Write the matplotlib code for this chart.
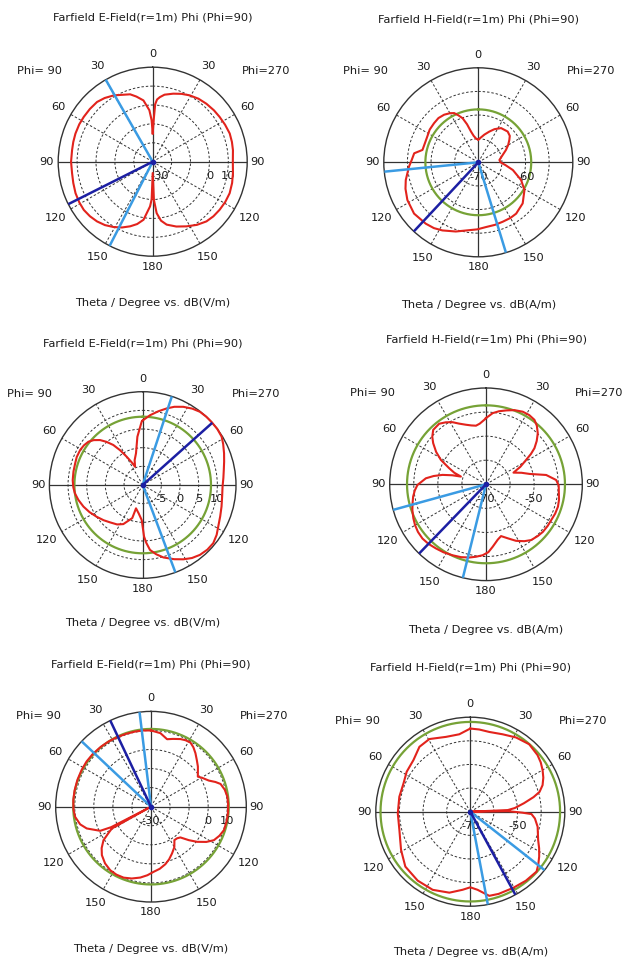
import numpy as np
import matplotlib
matplotlib.use("Agg")
import matplotlib.pyplot as plt

W, H = 633, 963

# Angles are measured clockwise from the zenith (0..360 deg):
# right half = Phi=270 cut (theta 0..180), left half = Phi=90 cut.

# ---------- E-field, case 1 ----------
e1_theta = [0, 1.5, 2.5, 4, 6.4, 10, 16.8, 23, 29.2, 36, 42.8, 50, 56.2, 63, 69.9, 76, 81.8,
            90, 98.2, 105, 112.3, 119, 125.7, 132, 138, 145, 152.4, 160, 167.5, 172, 175.6,
            178.2, 180, 181.6, 183.4, 189, 194, 199.2, 205, 210.9, 217, 223, 229, 235, 241,
            247.8, 255, 261.8, 270, 278.2, 284, 290, 297, 303, 310, 317, 323, 329.5, 334,
            341.5, 346, 351.4, 356.3, 358.5, 360]
e1_db = [-15, -7, 0.5, 3, 4.4, 6, 7.6, 9, 10.2, 11.2, 11.8, 12.3, 12.6, 13.0, 13.4, 13.2, 12.9,
         12.4, 12.9, 13.5, 14.0, 13.9, 13.6, 13.2, 12.5, 10.8, 8.6, 6.5, 4.1, 1.5, -2.7,
         -9.8, -24, -10, -6.3, 1.1, 4, 6.2, 8.4, 10.3, 12, 13.2, 14.0, 14.5, 14.4,
         14.1, 13.5, 13.1, 13.2, 13.1, 13.3, 13.5, 13.6, 13.5, 13.4, 13.2, 12.2, 10.7, 9.3,
         7.6, 5.5, 2.8, -2.7, -8, -15]
e1_main = 243.3
e1_beam = [330.2, 207.1]

# ---------- H-field, case 1 ----------
h1_theta = [0, 12.4, 19.7, 26, 33.7, 43.7, 50, 54.2, 60, 66, 75, 83.7, 90, 96, 102.6, 112.5,
            121, 132.8, 143.6, 150, 157.7, 165, 173.2, 181, 189.3, 198, 207.8, 214, 220.6,
            231.4, 242, 250, 256.3, 266.4, 272, 278, 282.5, 290, 296.9, 304, 311.5, 318,
            324.3, 330, 333.9, 337, 340.4, 343.5, 346.6, 350, 355, 360]
h1_db = [-65.2, -64.0, -63.1, -62.2, -61.3, -61.0, -61.3, -61.9, -62.7, -63.6, -64.8, -65.5,
         -65.3, -64.2, -62.5, -60.2, -58.6, -57.2, -56.5, -56.4, -56.4, -56.3, -56.2, -55.8,
         -55.4, -54.6, -53.7, -53.2, -52.9, -52.6, -53.0, -53.6, -54.2, -55.3, -55.9, -56.3,
         -57.9, -58.0, -57.9, -57.6, -57.5, -57.4, -57.6, -58.0, -58.4, -59.2, -60.1, -61.6,
         -63.3, -64.3, -65.0, -65.2]
h1_ref = -58.8
h1_main = 223
h1_beam = [264.3, 163]

# ---------- E-field, case 2 ----------
e2_theta = [0, 6, 12, 17.4, 22, 27.4, 33, 38, 43, 47.5, 53, 58.5, 63, 68.7, 74, 79.5, 85,
            91.2, 98, 105.3, 112, 118.8, 124, 129.5, 135, 140.7, 146, 151.3, 157, 164, 169,
            173.6, 176.5, 178.5, 181.6, 188, 196, 197.5, 206.4, 213, 221.2, 228, 235.5, 243,
            250, 257, 263, 268, 274, 281, 287.8, 293, 299.2, 304, 308.6, 312.5, 316.5, 320,
            323.7, 327, 330.5, 334, 337.3, 342, 348.1, 353.7, 359.1, 360]
e2_db = [7.3, 8.8, 10.2, 11.5, 12.6, 13.6, 14.4, 14.9, 15.0, 15.0, 15.0, 14.8, 14.2, 13.4,
         12.7, 12.1, 11.7, 11.4, 11.5, 11.9, 12.4, 13.1, 13.9, 14.5, 14.5, 14.2, 13.6, 12.7,
         11.6, 10.2, 8.9, 7.5, 5.5, 3.8, -0.6, -2.3, -3.5, -0.7, 1.7, 2.6, 3.3, 4.1, 5.0, 6.0,
         6.9, 7.7, 8.3, 8.6, 8.8, 8.9, 9.0, 9.2, 9.2, 9.0, 8.6, 7.8, 6.6, 5.1,
         3.3, 1.1, -1.3, -3.2, -4.7, -3.0, -1.3, 3.0, 7.0, 7.3]
e2_ref = 8.3
e2_main = 48.2
e2_beam = [18.2, 159.5]

# ---------- H-field, case 2 ----------
h2_theta = [0, 5.4, 10, 15.2, 21, 26.9, 32, 36.9, 41, 45.4, 49.5, 53.3, 56, 58.7, 63, 67,
            72, 76.6, 81.2, 86.5, 91, 97.1, 102, 107.3, 113, 118.8, 124, 129.9, 135, 141,
            146, 152, 158, 163.8, 168, 173.9, 178, 182.7, 188, 192.9, 199, 205.3, 212, 218,
            224, 229.5, 235, 240.1, 245, 250.7, 255, 260.4, 265, 269.4, 275.7, 279, 282.2,
            285, 287.1, 290, 293.6, 298.4, 303, 307.9, 311.5, 315.9, 322.3, 327, 331.7, 336,
            341.4, 346, 350.3, 354, 358.5, 360]
h2_db = [-42.5, -40.3, -39.2, -38.2, -37.0, -36.2, -36.1, -36.5, -37.8, -39.8, -42.3, -44.9,
         -47.5, -50.5, -54.0, -57.6, -54.5, -51.4, -44.7, -40.8, -39.8, -39.5, -39.0, -38.7,
         -38.8, -39.1, -39.1, -39.2, -39.6, -40.2, -41.5, -43.4, -45.8, -47.6, -46.5, -43.9,
         -41.8, -40.5, -39.6, -38.8, -38.0, -37.4, -36.7, -36.2, -35.6, -35.3, -35.5, -36.0,
         -36.7, -37.6, -38.4, -39.3, -40.3, -41.5, -44.9, -48.0, -51.5, -55.5, -59.1, -56.0,
         -53.3, -48.7, -45.3, -42.2, -40.2, -38.5, -38.2, -39.3, -40.7, -42.4, -43.9, -44.8,
         -45.3, -44.7, -43.2, -42.5]
h2_ref = -37.2
h2_main = 224
h2_beam = [254.6, 193.9]

# ---------- E-field, case 3 ----------
e3_theta = [0, 7.3, 13.4, 18, 23.5, 27.5, 31.6, 35.5, 39.7, 44.5, 49.4, 53.5, 57.3, 61, 65.7,
            69, 71.9, 77, 82.5, 88, 95, 101, 107.8, 113, 118, 122.5, 127.3, 131.5, 136.3,
            140.5, 145, 150, 155.8, 161, 166, 172, 177.7, 183, 188.6, 195, 201.1, 207, 212.7,
            219, 225.4, 230, 234.8, 238, 240.9, 242, 242.8, 244.6, 251.3, 256, 262.5, 268,
            274.9, 282, 290, 298, 305, 312, 320, 327, 334, 341, 348, 354, 360]
e3_db = [10.0, 8.9, 6.4, 7.4, 8.7, 9.3, 9.5, 8.3, 6.5, 4.3, 2.4, 0.6, -0.8, 1.0, 3.3,
         6.2, 8.4, 9.7, 10.4, 10.5, 10.5, 10.4, 10.2, 9.0, 7.4, 4.4, 0.4, -3.5, -7.7,
         -8.5, -8.6, -5.5, -3.1, -0.8, 1.1, 2.9, 4.2, 6.0, 7.6, 9.0, 9.9, 10.0, 9.6,
         8.3, 6.2, 3.8, 0.5, -3.5, -6.5, -30, -6.5, -0.5, 5.6, 8.3, 10.2, 10.7,
         10.9, 11.0, 11.1, 11.2, 11.3, 11.2, 11.0, 10.8, 10.6, 10.4, 10.3, 10.2, 10.0]
e3_ref = 10.8
e3_main = 334.7
e3_beam = [313.3, 353.1]

# ---------- H-field, case 3 ----------
h3_theta = [0, 6.2, 13.4, 22.6, 31.6, 41.1, 49.9, 55, 60.1, 65, 69.8, 74, 77, 81, 85.3, 87.5,
            88.3, 89.2, 91.1, 92.2, 96, 102.6, 112.6, 118, 123.1, 128, 132.1, 141.2, 150.6,
            161, 167.3, 174.7, 180, 185.6, 194.5, 205.7, 217.4, 229.8, 241, 248, 255.5,
            268.7, 281.9, 292.9, 302.1, 312.2, 321.9, 330.6, 342, 351.9, 360]
h3_db = [-34.8, -35.0, -35.3, -34.5, -33.1, -32.1, -32.8, -33.6, -34.7, -35.9, -37.4, -39.5,
         -42.5, -47.0, -51.1, -54.1, -70, -54.0, -47.9, -44.1, -42.5, -40.8, -38.9, -37.0,
         -35.2, -33.5, -32.2, -32.5, -33.0, -33.2, -33.5, -36.8, -38.0, -36.8, -34.6, -33.3,
         -33.3, -34.0, -36.5, -38.0, -39.0, -39.3, -39.3, -39.3, -38.2, -37.5, -35.1, -34.7,
         -36.7, -36.9, -34.8]
h3_ref = -32.0
h3_main = 151.5
h3_beam = [128.2, 169.3]

E_TITLE = "Farfield E-Field(r=1m) Phi (Phi=90)"
H_TITLE = "Farfield H-Field(r=1m) Phi (Phi=90)"
E_XLABEL = "Theta / Degree vs. dB(V/m)"
H_XLABEL = "Theta / Degree vs. dB(A/m)"

ANGLE_LABELS = [(0, "0", 1.14), (30, "30", 1.17), (60, "60", 1.155), (90, "90", 1.11),
                (120, "120", 1.185), (150, "150", 1.17), (180, "180", 1.11),
                (210, "150", 1.17), (240, "120", 1.185), (270, "90", 1.12),
                (300, "60", 1.155), (330, "30", 1.17)]

RED = "#e2231c"
NAVY = "#1c1fa3"
SKY = "#3a9be3"
OLIVE = "#76a236"
TXT = "#1a1a1a"
FS = 8.2

plt.rcParams["font.family"] = ["DejaVu Sans"]

fig = plt.figure(figsize=(W / 100, H / 100), dpi=100)
fig.patch.set_facecolor("white")


def panel(cx, cy, R, theta, db, rmin, rmax, rgrid, rlabels, ref, main, beam,
          title, xlabel, ty, xy, c_dx=0):
    ax = fig.add_axes([(cx - R) / W, 1 - (cy + R) / H, 2 * R / W, 2 * R / H],
                      projection="polar")
    ax.set_theta_zero_location("N")
    ax.set_theta_direction(-1)
    ax.set_ylim(rmin, rmax)
    ax.set_xticks(np.deg2rad(np.arange(0, 360, 30)))
    ax.set_xticklabels([])
    ax.set_yticks(rgrid)
    ax.set_yticklabels([])
    ax.tick_params(length=0)
    ax.grid(True, color="#333333", lw=0.7, ls=(0, (2.5, 2)))
    ax.spines["polar"].set_linewidth(1.0)
    ax.spines["polar"].set_color("#333333")
    ax.set_facecolor("white")

    # solid principal axes
    for a in (0, 90, 180, 270):
        ax.plot([np.deg2rad(a)] * 2, [rmin, rmax], color="#333333", lw=0.9, zorder=2)

    if ref is not None:
        t = np.linspace(0, 2 * np.pi, 361)
        ax.plot(t, np.full_like(t, ref), color=OLIVE, lw=1.6, zorder=3)

    ax.plot(np.deg2rad(theta), db, color=RED, lw=1.5, zorder=4, clip_on=False)

    for a in beam:
        ax.plot([np.deg2rad(a)] * 2, [rmin, rmax], color=SKY, lw=1.8, zorder=5)
    ax.plot([np.deg2rad(main)] * 2, [rmin, rmax], color=NAVY, lw=1.8, zorder=6)
    ax.plot([0], [rmin], "o", ms=3, color=NAVY, zorder=7)

    span = rmax - rmin
    for a, s, k in ANGLE_LABELS:
        ax.text(np.deg2rad(a), rmin + span * k, s, ha="center", va="center",
                fontsize=FS, color=TXT)

    for v, s in rlabels:
        dx = c_dx if v == rmin else 0
        ax.annotate(s, xy=(np.pi / 2, v), xytext=(dx, -14.5), textcoords="offset pixels",
                    ha="center", va="center", fontsize=FS, color=TXT)

    fig.text((cx - 113) / W, 1 - (cy - 91) / H, "Phi= 90", ha="center", va="center",
             fontsize=FS, color=TXT)
    fig.text((cx + 113) / W, 1 - (cy - 91) / H, "Phi=270", ha="center", va="center",
             fontsize=FS, color=TXT)
    fig.text(cx / W, 1 - (cy + ty) / H, title, ha="center", va="center",
             fontsize=FS, color=TXT)
    fig.text(cx / W, 1 - (cy + xy) / H, xlabel, ha="center", va="center",
             fontsize=FS, color=TXT)


panel(152.7, 161.7, 94.5, e1_theta, e1_db, -30, 20, [-20, -10, 0, 10],
      [(-30, "-30"), (0, "0"), (10, "10")], None, e1_main, e1_beam,
      E_TITLE, E_XLABEL, -144.7, 141.3, c_dx=7)
panel(478.3, 162.3, 94.5, h1_theta, h1_db, -70, -50, [-65, -60, -55],
      [(-70, "-70"), (-60, "-60")], h1_ref, h1_main, h1_beam,
      H_TITLE, H_XLABEL, -142.3, 142.7)
panel(142.7, 485.0, 93.3, e2_theta, e2_db, -10, 15, [-5, 0, 5, 10],
      [(-5, "-5"), (0, "0"), (5, "5"), (10, "10")], e2_ref, e2_main, e2_beam,
      E_TITLE, E_XLABEL, -141.0, 138.0)
panel(486.0, 484.3, 96.3, h2_theta, h2_db, -70, -30, [-60, -50, -40],
      [(-70, "-70"), (-50, "-50")], h2_ref, h2_main, h2_beam,
      H_TITLE, H_XLABEL, -144.3, 145.7)
panel(151.0, 806.7, 95.3, e3_theta, e3_db, -30, 20, [-20, -10, 0, 10],
      [(-30, "-30"), (0, "0"), (10, "10")], e3_ref, e3_main, e3_beam,
      E_TITLE, E_XLABEL, -142.7, 142.3)
panel(470.3, 811.7, 94.5, h3_theta, h3_db, -70, -30, [-60, -50, -40],
      [(-70, "-70"), (-50, "-50")], h3_ref, h3_main, h3_beam,
      H_TITLE, H_XLABEL, -143.7, 140.0)

fig.savefig("out.png", dpi=100, facecolor="white")
